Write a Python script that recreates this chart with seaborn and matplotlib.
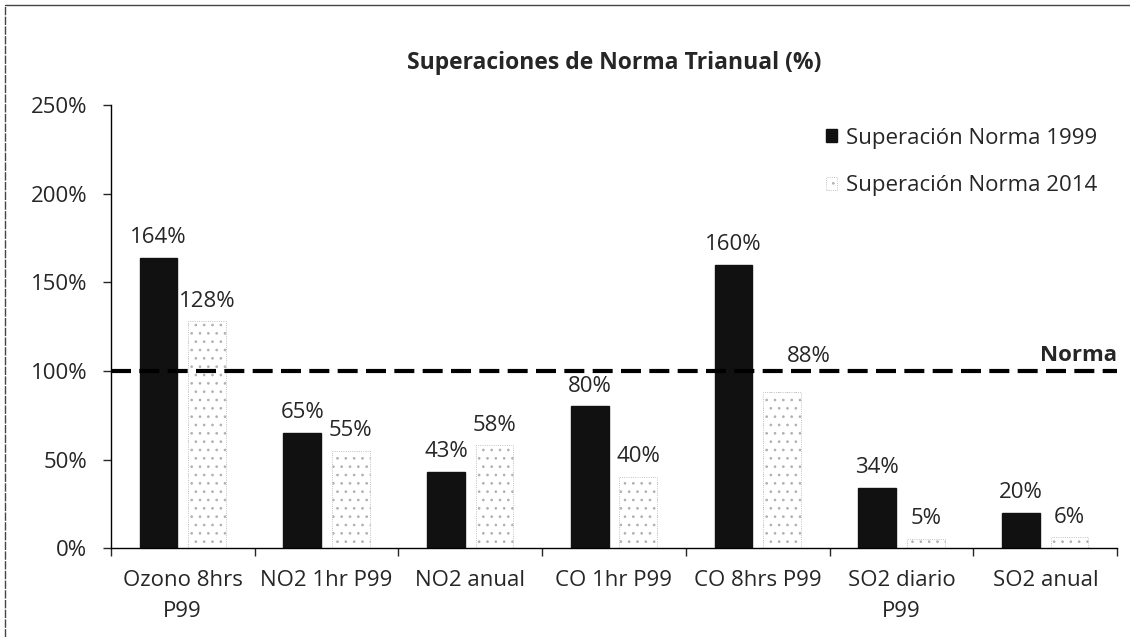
import matplotlib
matplotlib.use("Agg")
import matplotlib.pyplot as plt
from matplotlib.lines import Line2D
from matplotlib.ticker import FuncFormatter, FixedLocator
import seaborn as sns
import pandas as pd

categories = ["Ozono 8hrs\nP99", "NO2 1hr P99", "NO2 anual", "CO 1hr P99",
              "CO 8hrs P99", "SO2 diario\nP99", "SO2 anual"]
norma_1999 = [164, 65, 43, 80, 160, 34, 20]
norma_2014 = [128, 55, 58, 40, 88, 5, 6]
series_labels = ["Superación Norma 1999", "Superación Norma 2014"]
yticks = [0, 50, 100, 150, 200, 250]

df = pd.DataFrame({
    "categoria": categories * 2,
    "valor": norma_1999 + norma_2014,
    "serie": [series_labels[0]] * len(categories) + [series_labels[1]] * len(categories),
})

sns.set_style("white")
plt.rcParams["font.family"] = ["Open Sans", "DejaVu Sans"]
plt.rcParams["hatch.linewidth"] = 0.7

FS = 16

fig = plt.figure(figsize=(11.3, 6.37), dpi=100)
ax = fig.add_axes([0.098, 0.1397, 0.8907, 0.6947])

sns.barplot(data=df, x="categoria", y="valor", hue="serie", order=categories,
            hue_order=series_labels, palette=["#111111", "white"],
            width=0.674, gap=0.22, legend=False, ax=ax, saturation=1)

# light bars: white with grey stipple
for bar in ax.containers[1]:
    bar.set_hatch("..")
    bar.set_edgecolor("#b0b0b0")
    bar.set_linewidth(0.6)
    bar.set_linestyle(":")
for bar in ax.containers[0]:
    bar.set_edgecolor("#111111")

labels_1999 = ax.bar_label(ax.containers[0], labels=[f"{v}%" for v in norma_1999],
                           padding=7, fontsize=FS)
labels_2014 = ax.bar_label(ax.containers[1], labels=[f"{v}%" for v in norma_2014],
                           padding=7, fontsize=FS)
# the 88% label sits above the Norma line, shifted right (as in the original)
labels_2014[4].xyann = (19, 18)

ax.axhline(100, color="black", lw=3, ls=(0, (4.8, 2)), zorder=3)
ax.text(6.5, 103, "Norma", ha="right", va="bottom", fontsize=FS, fontweight="bold")

ax.set_ylim(0, 250)
ax.set_xlim(-0.5, 6.5)
ax.set_yticks(yticks)
ax.yaxis.set_major_formatter(FuncFormatter(lambda v, p: f"{v:.0f}%"))
ax.tick_params(axis="y", labelsize=FS, length=6, width=1, direction="out", pad=11, left=True)
ax.set_xticks(range(len(categories)))
ax.set_xticklabels(categories)
ax.xaxis.set_minor_locator(FixedLocator([i - 0.5 for i in range(len(categories) + 1)]))
ax.tick_params(axis="x", which="major", labelsize=FS, length=0, pad=16)
ax.tick_params(axis="x", which="minor", length=6, width=1, direction="out", bottom=True)
for t in ax.get_xticklabels():
    t.set_linespacing(1.6)
ax.set_xlabel("")
ax.set_ylabel("")

for side in ["top", "right"]:
    ax.spines[side].set_visible(False)
for side in ["left", "bottom"]:
    ax.spines[side].set_color("black")
    ax.spines[side].set_linewidth(1)

ax.set_title("Superaciones de Norma Trianual (%)", fontsize=16.5, fontweight="bold", pad=26)

ax.legend(ax.containers, series_labels, loc="upper right", bbox_to_anchor=(1.0, 0.995),
          frameon=False, fontsize=FS, handlelength=0.5, handleheight=0.5,
          handletextpad=0.4, labelspacing=1.2)

# chart-area border
fig.add_artist(Line2D([0.004, 1.0], [0.992, 0.992], transform=fig.transFigure,
                      color="#444444", lw=1))
fig.add_artist(Line2D([0.004, 0.004], [0.0, 0.992], transform=fig.transFigure,
                      color="#444444", lw=1, ls=(0, (6, 1))))

fig.savefig("out.png", dpi=100)
